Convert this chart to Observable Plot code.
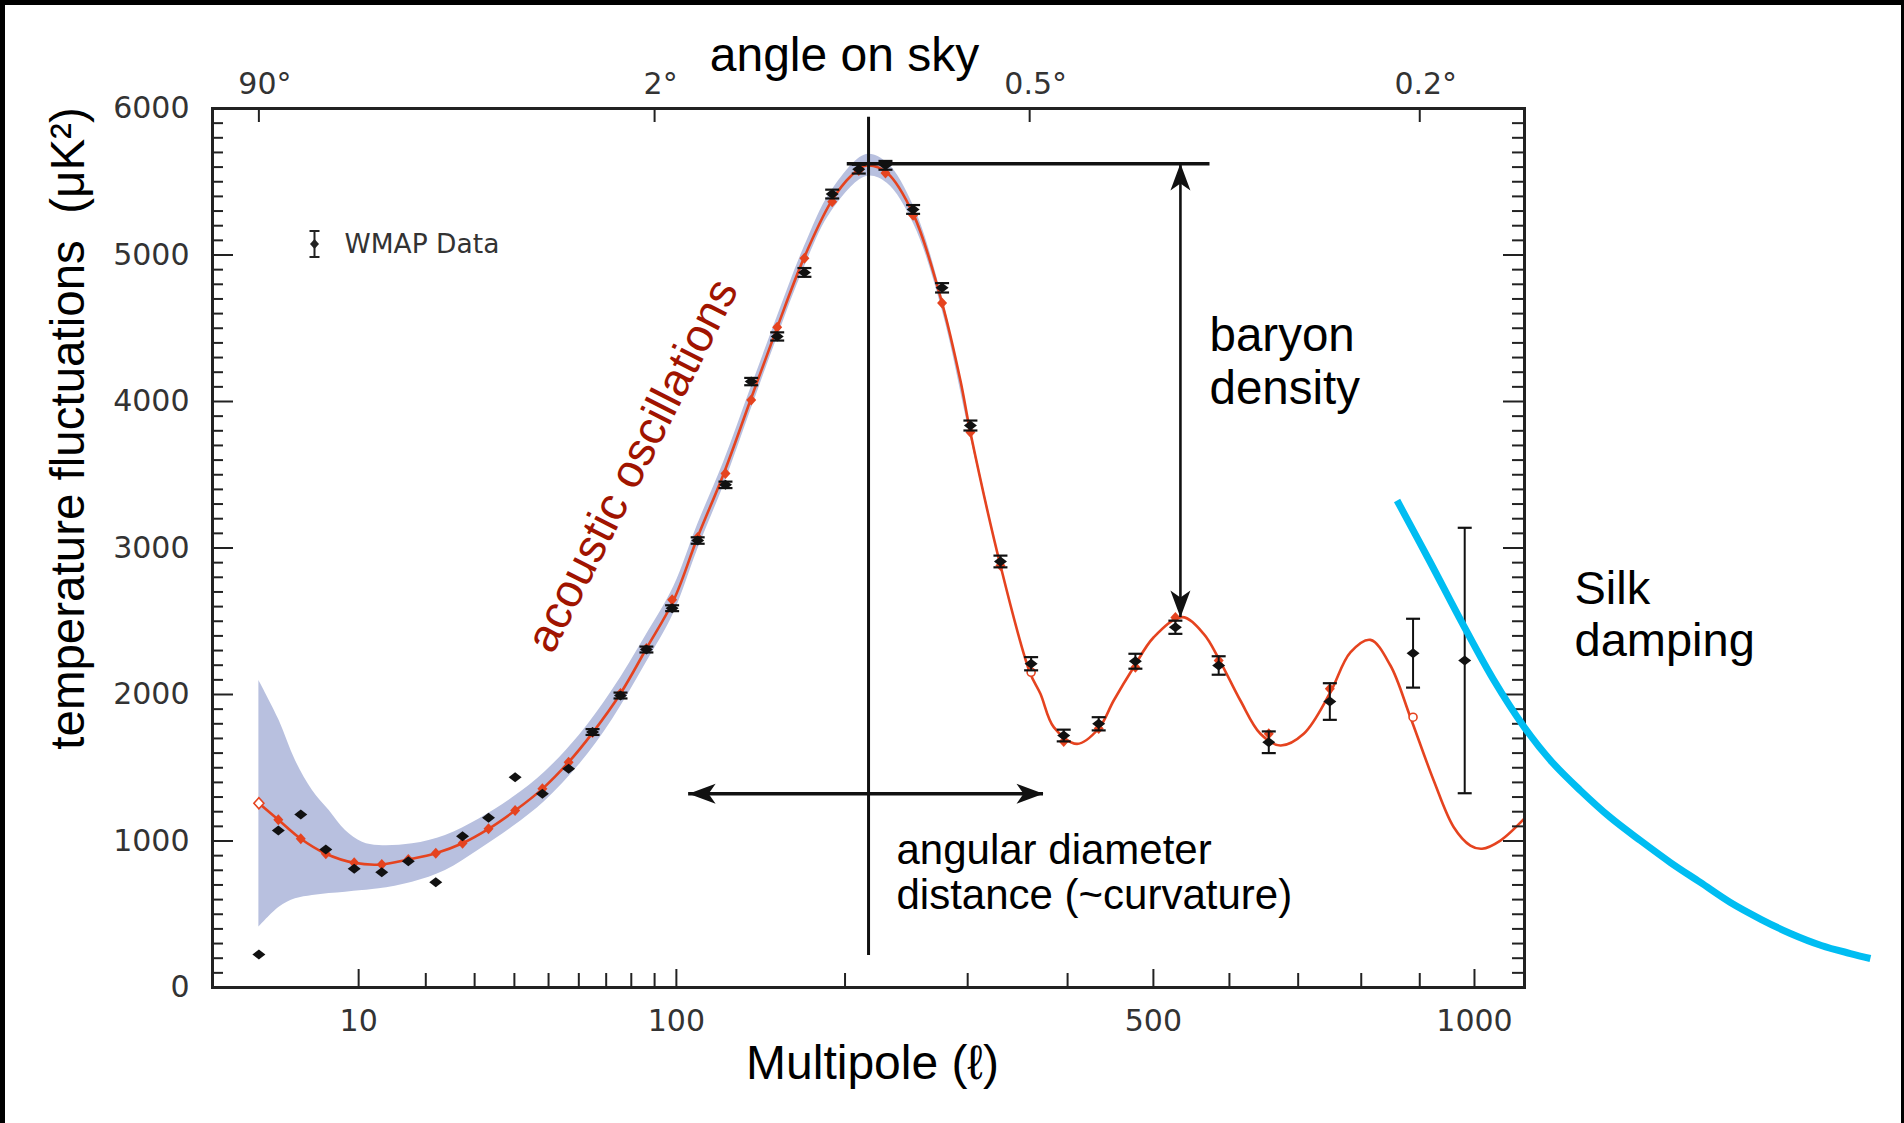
<!DOCTYPE html>
<html><head><meta charset="utf-8">
<script src="https://cdn.jsdelivr.net/npm/d3@7"></script>
<script src="https://cdn.jsdelivr.net/npm/@observablehq/plot@0.6"></script>
<style>
html,body{margin:0;padding:0;background:#fff;}
#wrap{position:relative;width:1904px;height:1123px;overflow:hidden;background:#fff;}
#chart{position:absolute;left:0;top:0;}
.edge{position:absolute;background:#000;}
</style></head><body>
<div id="wrap">
<div id="chart"></div>
<div class="edge" style="left:0;top:0;width:1904px;height:5px"></div>
<div class="edge" style="left:0;top:0;width:5px;height:1123px"></div>
<div class="edge" style="right:0;top:0;width:3px;height:1123px"></div>
</div>
<script>
// ---- WMAP binned data (multipole, value in µK², error) ----
const ell = [2, 3, 4.47, 6.54, 9.48, 12.98, 17.0, 21.85, 27.3, 33.3, 40.2, 48.1, 56.5, 64.9, 75.6, 86.4, 98.0, 110.4, 124.9, 139.3, 154.8, 172.1, 190.9, 210.0, 230.3, 252.5, 277.1, 302.5, 330.9, 361.5, 395.8, 434.7, 477.9, 527.8, 585.2, 656.1, 749.2, 888.2, 981.7];
const wmap = [225, 1072, 1181, 942, 810, 787, 862, 719, 1033, 1158, 1435, 1322, 1493, 1744, 1993, 2307, 2589, 3051, 3431, 4136, 4444, 4881, 5416, 5586, 5612, 5311, 4776, 3836, 2908, 2210, 1720, 1800, 2227, 2459, 2198, 1674, 1952, 2282, 2232];
const wmapErr = [0, 0, 0, 0, 0, 0, 0, 0, 0, 0, 0, 0, 0, 20, 20, 20, 20, 22, 22, 25, 28, 30, 30, 30, 30, 30, 32, 34, 40, 45, 40, 45, 51, 45, 63, 74, 125, 235, 906];
// binned model values (red markers)
const modelBinned = [1258, 1145, 1015, 913, 851, 840, 874, 917, 985, 1083, 1208, 1356, 1538, 1741, 2007, 2314, 2647, 3072, 3509, 4010, 4506, 4977, 5364, 5577, 5560, 5272, 4672, 3790, 2881, 2152, 1679, 1768, 2186, 2526, 2232, 1732, 2039, 1845, null];
const openDiamondEll = [2];
const openCircleEll = [361.5, 888.2];

// ---- best-fit model curve ----
const curveEll = [2, 3, 4.47, 6.54, 9.48, 12.98, 17.0, 21.85, 27.3, 33.3, 40.2, 48.1, 56.5, 64.9, 75.6, 86.4, 98.8, 110.3, 124.0, 138.9, 154.8, 171.7, 190.2, 203.9, 215.7, 231.6, 253.0, 277.1, 293.4, 302.5, 330.9, 360.1, 371.1, 385.1, 410.4, 434.7, 452.1, 475.9, 500.4, 536.5, 564.9, 586.6, 615.3, 643.9, 673.2, 708.5, 748.9, 782.2, 815.2, 849.0, 883.5, 924.9, 961.4, 992.3, 1014.4, 1049.6, 1097];
const curveVal = [1258, 1145, 1015, 913, 851, 840, 874, 917, 985, 1083, 1208, 1356, 1538, 1738, 2007, 2314, 2647, 3072, 3509, 4010, 4506, 4977, 5364, 5536, 5611, 5560, 5272, 4672, 4143, 3788, 2881, 2152, 2005, 1777, 1663, 1768, 1959, 2186, 2391, 2528, 2414, 2232, 1959, 1732, 1652, 1732, 2005, 2287, 2373, 2198, 1845, 1413, 1094, 969, 947, 1003, 1154];

// ---- cosmic variance band ----
const bandEll = [2, 3.05, 4.09, 5.38, 6.86, 8.51, 10.46, 12.62, 17.68, 23.74, 31.06, 39.48, 49.04, 60.12, 72.42, 86.13, 98.8, 110.3, 124.0, 138.9, 154.8, 171.7, 190.2, 215.7, 231.6, 253.0, 277.1, 302.5, 330.9];
const bandLo = [412, 548, 605, 628, 642, 651, 662, 674, 719, 799, 941, 1095, 1275, 1520, 1830, 2211, 2557, 2987, 3429, 3935, 4436, 4907, 5294, 5536, 5490, 5212, 4627, 3758, 2866];
const bandHi = [2096, 1823, 1549, 1345, 1208, 1072, 992, 969, 981, 1038, 1151, 1295, 1475, 1720, 2030, 2401, 2737, 3157, 3589, 4085, 4576, 5047, 5434, 5686, 5630, 5332, 4717, 3818, 2896];

// ---- Silk damping envelope (annotation) ----
const silkEll = [860.4, 918.9, 977.4, 1036.1, 1096.9, 1153.4, 1211.8, 1276.4, 1342.8, 1411.4, 1481.9, 1554.6, 1631.8, 1706.2, 1787.7, 1866.3, 1921.6];
const silkVal = [3324, 2901, 2485, 2102, 1775, 1536, 1345, 1160, 1003, 853, 717, 580, 464, 369, 287, 232, 198];

// ---- annotation values ----
const firstPeakEll = 217.3;
const firstPeakLine = [218, 5940];
const peakHeight = 5623;
const peakHeightSpan = [201.6, 573.4];
const baryonEll = 534.3;
const baryonSpan = [2526, 5625];
const distanceSpan = [105.9, 374.3];
const distanceVal = 1322;

// ---- ticks ----
const yTicks = [0, 1000, 2000, 3000, 4000, 5000, 6000];
const yMinor = d3.range(0, 6001, 100).filter(v => v % 1000 !== 0);
const xTickLabels = [10, 100, 500, 1000];
const xMinor = [20, 30, 40, 50, 60, 70, 80, 90, 200, 300, 400, 600, 700, 800, 900];
const angleEll = [2, 90, 360, 900];
const angleLabels = ["90°", "2°", "0.5°", "0.2°"];

// ---- tables ----
const points = ell.map((l, i) => ({l, v: wmap[i], e: wmapErr[i], m: modelBinned[i]}));
const withErr = points.filter(d => d.e > 0);
const modelFilled = points.filter(d => d.m != null && !openDiamondEll.includes(d.l) && !openCircleEll.includes(d.l));
const modelOpenD = points.filter(d => openDiamondEll.includes(d.l));
const modelOpenC = points.filter(d => openCircleEll.includes(d.l));
const curve = curveEll.map((l, i) => ({l, v: curveVal[i]}));
const band = bandEll.map((l, i) => ({l, lo: bandLo[i], hi: bandHi[i]}));
const silk = silkEll.map((l, i) => ({l, v: silkVal[i]}));

// ---- symbols ----
const wideDiamond = (hw, hh) => ({draw(c) { c.moveTo(hw, 0); c.lineTo(0, hh); c.lineTo(-hw, 0); c.lineTo(0, -hh); c.closePath(); }});
const capSym = hw => ({draw(c) { c.moveTo(-hw, 0); c.lineTo(hw, 0); }});
const arrowHead = {draw(c) { c.moveTo(0, 0); c.lineTo(-27, -10); c.lineTo(-20, 0); c.lineTo(-27, 10); c.closePath(); }};
const legendBar = {draw(c) { c.moveTo(0, -13); c.lineTo(0, 13); c.moveTo(-5, -13); c.lineTo(5, -13); c.moveTo(-5, 13); c.lineTo(5, 13); }};

const W = 1904, H = 1123, mL = 212, mR = 380, mT = 108, mB = 136;
const fw = W - mL - mR, fh = H - mT - mB;
const SANS = "Liberation Sans, Arial, Helvetica, sans-serif";
const CHART = "DejaVu Sans, Verdana, sans-serif";
const RED = "#e5431f";
const INK = "#111";

function label(txt, anchor, dx, dy, opts = {}) {
  return Plot.text([txt], {text: d => d, frameAnchor: anchor, dx, dy, lineAnchor: "bottom", textAnchor: "start",
    fontSize: 47, fontFamily: SANS, fill: "#000", ...opts});
}

const plot = Plot.plot({
  width: W, height: H,
  marginLeft: mL, marginRight: mR, marginTop: mT, marginBottom: mB,
  style: {background: "transparent", fontFamily: SANS, overflow: "visible"},
  x: {type: "pow", exponent: 0.4, domain: [0.512, 1097], label: null},
  y: {domain: [0, 6000], label: null},
  marks: [
    // cosmic variance band
    Plot.areaY(band, {x: "l", y1: "lo", y2: "hi", fill: "#b8c0df", curve: "catmull-rom"}),
    // model curve
    Plot.line(curve, {x: "l", y: "v", stroke: RED, strokeWidth: 2.6, curve: "catmull-rom"}),
    Plot.dot(modelFilled, {x: "l", y: "m", symbol: wideDiamond(5, 5.5), fill: RED, stroke: "none"}),
    Plot.dot(modelOpenD, {x: "l", y: "m", symbol: wideDiamond(5, 5.5), fill: "#fff", stroke: RED, strokeWidth: 1.6}),
    Plot.dot(modelOpenC, {x: "l", y: "m", r: 4, fill: "#fff", stroke: RED, strokeWidth: 1.6}),
    // data error bars
    Plot.ruleX(withErr, {x: "l", y1: d => d.v - d.e, y2: d => d.v + d.e, stroke: INK, strokeWidth: 2}),
    Plot.dot(withErr, {x: "l", y: d => d.v - d.e, symbol: capSym(7), stroke: INK, strokeWidth: 2.2, fill: "none"}),
    Plot.dot(withErr, {x: "l", y: d => d.v + d.e, symbol: capSym(7), stroke: INK, strokeWidth: 2.2, fill: "none"}),
    Plot.dot(points, {x: "l", y: "v", symbol: wideDiamond(6.5, 5), fill: INK, stroke: "none"}),

    // frame ticks (inward)
    Plot.ruleX(xTickLabels, {x: d => d, insetTop: fh - 18, stroke: "#222", strokeWidth: 2}),
    Plot.ruleX(xMinor, {x: d => d, insetTop: fh - 14, stroke: "#222", strokeWidth: 2}),
    Plot.ruleX(angleEll, {x: d => d, insetBottom: fh - 14, stroke: "#222", strokeWidth: 2}),
    Plot.ruleY(yTicks, {y: d => d, insetRight: fw - 21, stroke: "#222", strokeWidth: 2}),
    Plot.ruleY(yMinor, {y: d => d, insetRight: fw - 11, stroke: "#222", strokeWidth: 2}),
    Plot.ruleY(yTicks, {y: d => d, insetLeft: fw - 21, stroke: "#222", strokeWidth: 2}),
    Plot.ruleY(yMinor, {y: d => d, insetLeft: fw - 12, stroke: "#222", strokeWidth: 2}),
    Plot.frame({stroke: "#222", strokeWidth: 3}),

    // axes
    Plot.axisY({anchor: "left", ticks: yTicks, tickFormat: d => String(d), tickSize: 0, tickPadding: 23,
      fontSize: 30, fontFamily: CHART, color: "#333", label: null}),
    Plot.axisX({anchor: "bottom", ticks: xTickLabels, tickFormat: d => String(d), tickSize: 0, tickPadding: 22,
      fontSize: 30, fontFamily: CHART, color: "#333", label: null}),
    Plot.axisX({anchor: "top", ticks: angleEll, tickFormat: d => angleLabels[angleEll.indexOf(d)], tickSize: 0, tickPadding: 15,
      dx: 6, fontSize: 30, fontFamily: CHART, color: "#333", label: null}),

    // legend
    Plot.dot([0], {frameAnchor: "top-left", dx: 102, dy: 135.5, symbol: legendBar, stroke: "#222", strokeWidth: 2, fill: "none"}),
    Plot.dot([0], {frameAnchor: "top-left", dx: 102, dy: 135.5, symbol: wideDiamond(4.5, 5), fill: "#222", stroke: "none"}),
    label("WMAP Data", "top-left", 132, 144, {fontSize: 26.5, fontFamily: CHART, fill: "#333"}),

    // annotations: first peak position & height
    Plot.ruleX([firstPeakEll], {x: d => d, y1: firstPeakLine[0], y2: firstPeakLine[1], stroke: INK, strokeWidth: 3}),
    Plot.ruleY([peakHeight], {y: d => d, x1: peakHeightSpan[0], x2: peakHeightSpan[1], stroke: INK, strokeWidth: 3.5}),
    Plot.ruleX([baryonEll], {x: d => d, y1: baryonSpan[0], y2: baryonSpan[1], stroke: INK, strokeWidth: 2.6}),
    Plot.dot([{l: baryonEll, v: baryonSpan[1], r: -90}, {l: baryonEll, v: baryonSpan[0], r: 90}],
      {x: "l", y: "v", rotate: "r", symbol: arrowHead, fill: INK, stroke: "none"}),
    Plot.ruleY([distanceVal], {y: d => d, x1: distanceSpan[0], x2: distanceSpan[1], stroke: INK, strokeWidth: 3.5}),
    Plot.dot([{l: distanceSpan[0], v: distanceVal, r: 180}, {l: distanceSpan[1], v: distanceVal, r: 0}],
      {x: "l", y: "v", rotate: "r", symbol: arrowHead, fill: INK, stroke: "none"}),

    // Silk damping envelope
    Plot.line(silk, {x: "l", y: "v", stroke: "#00bdf2", strokeWidth: 7, curve: "catmull-rom", strokeLinecap: "butt"}),

    // text annotations
    label("angle on sky", "top-left", 632, -38, {textAnchor: "middle", fontSize: 48}),
    label("baryon", "top-left", 997, 242, {fontSize: 47.5}),
    label("density", "top-left", 997, 295, {fontSize: 47.5}),
    label("Silk", "top-left", 1362, 495),
    label("damping", "top-left", 1362, 547),
    label("angular diameter", "top-left", 684, 755, {fontSize: 42}),
    label("distance (~curvature)", "top-left", 684, 800, {fontSize: 42}),
    label("acoustic oscillations", "top-left", 420, 357, {textAnchor: "middle", lineAnchor: "middle", rotate: -63, fontSize: 46.5, fill: "#a01400"}),
    label("Multipole (ℓ)", "bottom", 4, 91, {textAnchor: "middle", fontSize: 48}),
    label("temperature fluctuations\u00a0 (μK²)", "left", -144, -119.5, {textAnchor: "middle", lineAnchor: "middle", rotate: -90, fontSize: 47.5})
  ]
});
document.getElementById("chart").append(plot);
</script>
</body></html>
